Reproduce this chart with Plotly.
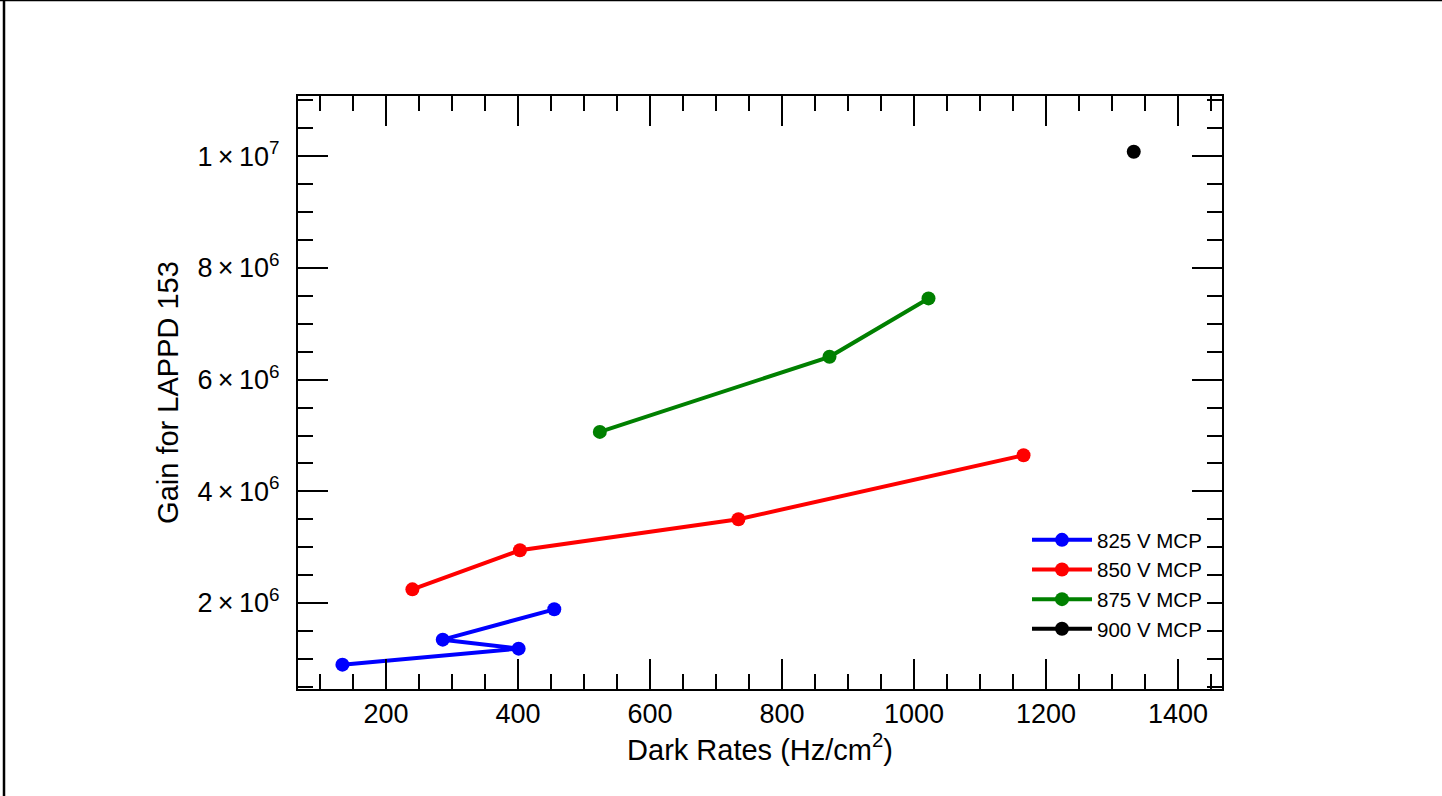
import plotly.graph_objects as go

# Data (in the order the points are joined)
x_825 = [134, 401, 286, 455]
y_825 = [0.896e6, 1.183e6, 1.344e6, 1.887e6]

x_850 = [240, 403, 734, 1166]
y_850 = [2.245e6, 2.944e6, 3.50e6, 4.647e6]

x_875 = [524, 872, 1022]
y_875 = [5.064e6, 6.409e6, 7.455e6]

x_900 = [1333]
y_900 = [1.0082e7]

series_names = ["825 V MCP", "850 V MCP", "875 V MCP", "900 V MCP"]
series_colors = ["#0000ff", "#ff0000", "#008000", "#000000"]

y_tickvals = [2e6, 4e6, 6e6, 8e6, 1e7]
y_ticktext = ["2\u2009×\u200910<sup>6</sup>", "4\u2009×\u200910<sup>6</sup>",
              "6\u2009×\u200910<sup>6</sup>", "8\u2009×\u200910<sup>6</sup>",
              "1\u2009×\u200910<sup>7</sup>"]

FONT = "Liberation Sans, Arial, Helvetica, sans-serif"

fig = go.Figure()
for xs, ys, name, col in zip([x_825, x_850, x_875, x_900],
                             [y_825, y_850, y_875, y_900],
                             series_names, series_colors):
    fig.add_trace(go.Scatter(
        x=xs, y=ys, name=name, mode="lines+markers",
        line=dict(color=col, width=4),
        marker=dict(color=col, size=14),
    ))

W, H = 1442, 796
L, R, T, B = 298, 220, 96, 107
pw, ph = W - L - R, H - T - B

axis_common = dict(
    showline=True, linecolor="black", linewidth=2, mirror="allticks",
    ticks="inside", tickcolor="black", tickwidth=1.5, ticklen=30,
    showgrid=False, zeroline=False,
    tickfont=dict(family=FONT, size=27, color="black"),
)

fig.update_layout(
    width=W, height=H,
    margin=dict(l=L, r=R, t=T, b=B, autoexpand=False),
    paper_bgcolor="white", plot_bgcolor="white",
    font=dict(family=FONT, color="black"),
    xaxis=dict(
        range=[66.7, 1466.7], tick0=0, dtick=200,
        minor=dict(ticks="inside", ticklen=15, tickwidth=1.5, tickcolor="black", dtick=50),
        title=dict(text="Dark Rates (Hz/cm<sup>2</sup>)",
                   font=dict(family=FONT, size=29, color="black"), standoff=6),
        **axis_common,
    ),
    yaxis=dict(
        range=[4.6e5, 1.108e7], tickvals=y_tickvals, ticktext=y_ticktext,
        minor=dict(ticks="inside", ticklen=15, tickwidth=1.5, tickcolor="black",
                   tickvals=[v * 5e5 for v in range(1, 23)]),
        title=dict(text="Gain for LAPPD 153",
                   font=dict(family=FONT, size=29, color="black"), standoff=10),
        ticklabelstandoff=11,
        **axis_common,
    ),
    legend=dict(
        x=(1027 - L) / pw, y=(H - B - 520) / ph, xanchor="left", yanchor="top",
        bgcolor="white", borderwidth=0,
        font=dict(family=FONT, size=20.5, color="black"),
        itemwidth=60, tracegroupgap=0,
        entrywidthmode="pixels", entrywidth=188,
    ),
    showlegend=True,
    shapes=[
        dict(type="line", xref="paper", yref="paper",
             x0=(4 - L) / pw, x1=(4 - L) / pw, y0=(H - B - H) / ph, y1=(H - B) / ph,
             line=dict(color="black", width=2.5)),
        dict(type="line", xref="paper", yref="paper",
             x0=(0 - L) / pw, x1=(W - L) / pw, y0=(H - B - 0.5) / ph, y1=(H - B - 0.5) / ph,
             line=dict(color="black", width=1.5)),
    ],
)

fig.write_html("out.html")
